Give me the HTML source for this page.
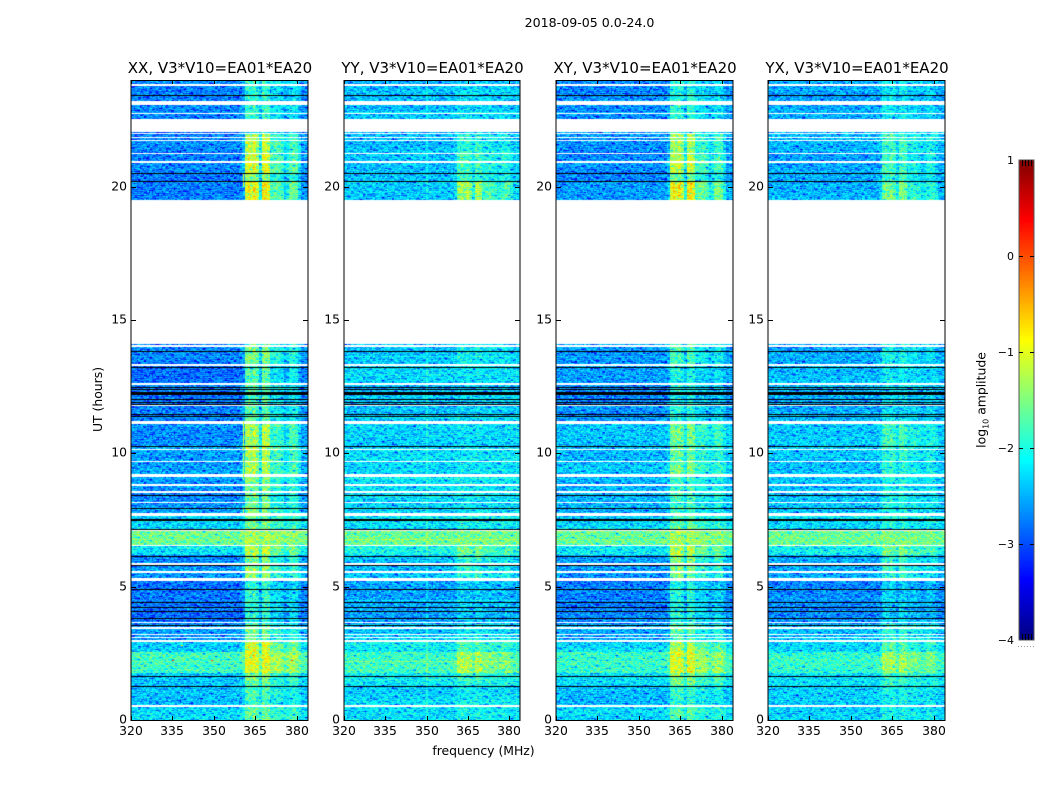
<!DOCTYPE html>
<html lang="en">
<head>
<meta charset="utf-8">
<title>2018-09-05 0.0-24.0</title>
<style>
html,body{margin:0;padding:0;background:#fff;}
#chart{position:relative;width:1050px;height:800px;overflow:hidden;background:#fff;}
canvas{position:absolute;display:block;}
svg{position:absolute;left:0;top:0;}
text{font-family:"DejaVu Sans","Liberation Sans",sans-serif;fill:#000;}
</style>
</head>
<body>
<div id="chart">
<svg id="axes" width="1050" height="800" viewBox="0 0 1050 800">
<text x="589.5" y="27" font-size="12.6" text-anchor="middle">2018-09-05 0.0-24.0</text>
<text x="483.5" y="755" font-size="12.4" text-anchor="middle">frequency (MHz)</text>
<text transform="translate(102,399.5) rotate(-90)" font-size="12.4" text-anchor="middle">UT (hours)</text>
<text transform="translate(985.5,400) rotate(-90)" font-size="12.4" text-anchor="middle">log<tspan font-size="8" dy="3">10</tspan><tspan dy="-3"> amplitude</tspan></text>
</svg>
</div>
<script>
// ---- Chart data ----
const panelTitles = ["XX, V3*V10=EA01*EA20", "YY, V3*V10=EA01*EA20", "XY, V3*V10=EA01*EA20", "YX, V3*V10=EA01*EA20"];
const freqTicks = [320, 335, 350, 365, 380];
const hourTicks = [0, 5, 10, 15, 20];
const colorTicks = [1, 0, -1, -2, -3, -4];
// Lower edge (hours) of each observing block, from the top of the plot downward.
const blockEnds = [22.0, 21.3, 20.5, 20.2, 19.5, 14.1, 13.3, 12.6, 11.2, 10.3, 9.2, 7.7, 7.15, 6.55, 6.2, 5.3, 3.6, 3.0, 2.55, 1.75, 1.3, 0.5, 0];
// Background log10 amplitude per block.
const baseXX = [-2.75, -2.72, -2.75, -2.8, -2.72, null, -2.75, -2.8, -2.78, -2.65, -2.6, -2.65, -2.3, -1.62, -2.2, -2.65, -2.82, -2.65, -2.35, -1.85, -2.35, -2.45, -2.3];
const baseYY = [-2.45, -2.42, -2.42, -2.45, -2.38, null, -2.42, -2.28, -2.4, -2.32, -2.28, -2.28, -2.25, -1.62, -2.05, -2.4, -2.58, -2.35, -2.15, -1.85, -2.15, -2.3, -2.25];
const baseXY = [-2.68, -2.64, -2.68, -2.72, -2.64, null, -2.64, -2.62, -2.68, -2.42, -2.42, -2.5, -2.3, -1.62, -2.2, -2.62, -2.75, -2.52, -2.28, -1.88, -2.28, -2.42, -2.32];
const baseYX = [-2.55, -2.5, -2.55, -2.55, -2.5, null, -2.55, -2.45, -2.5, -2.38, -2.38, -2.42, -2.25, -1.62, -2.1, -2.55, -2.68, -2.45, -2.25, -1.9, -2.25, -2.35, -2.3];
// Strength of the interference band per block.
const bandXX = [0.9, 1.6, 1.8, 1.4, 1.95, null, 1.3, 1.2, 1.1, 1.5, 1.4, 1.2, 0.8, 0.3, 1.1, 1.3, 0.95, 1.1, 1.4, 0.9, 0.9, 0.7, 0.7];
const bandYY = [0.2, 0.55, 0.65, 0.6, 1.1, null, 0.3, 0.1, 0.1, 0.1, 0.1, 0.1, 0.2, 0.1, 0.5, 0.55, 0.25, 0.25, 0.4, 0.6, 0.3, 0.2, 0.2];
const bandXY = [0.8, 1.4, 1.6, 1.2, 1.85, null, 0.9, 0.6, 0.7, 0.9, 0.9, 0.7, 0.7, 0.3, 1.0, 1.2, 0.8, 0.9, 1.1, 0.9, 0.8, 0.6, 0.6];
const bandYX = [0.4, 0.7, 0.8, 0.7, 1.0, null, 0.5, 0.3, 0.3, 0.6, 0.5, 0.4, 0.3, 0.1, 0.6, 0.7, 0.4, 0.5, 0.6, 0.6, 0.4, 0.3, 0.3];
// Relative band shape per 1 MHz channel group, 320 to 383 MHz.
const channelGain = [0,0,0,0,0,0,0,0,0,0, 0,0,0,0,0,0,0,0,0,0, 0,0,0,0,0,0,0,0,0,0, 0,0,0,0,0,0,0,0,0,0,
  0.15,0.9,1,0.85,1,0.8,0.35,1,1,0.9, 0.5,0.55,0.6,0.55,0.45,0.25,0.35,0.55,0.6,0.55, 0.3,0.05,0.05,0.05];
// Missing data (white), hours from-to.
const missingFrom = [23.79,23.06,22.74,22.06,21.96,21.84,21.71,21.22,20.88,14.10,13.99,13.29,12.58,11.79,11.10,10.12,9.67,9.11,8.77,8.51,8.12,7.65,7.09,6.51,5.83,5.53,5.21,3.64,3.43,3.19,3.07,2.94,0.49];
const missingTo = [23.85,23.22,22.78,22.55,22.00,21.88,21.75,21.28,20.96,19.50,14.06,13.35,12.62,11.83,11.21,10.18,9.73,9.22,8.85,8.57,8.16,7.77,7.13,6.58,5.89,5.57,5.32,3.67,3.47,3.24,3.13,3.00,0.56];
// Flagged integrations (black), hours.
const flaggedHours = [23.42,20.50,20.20,13.82,13.25,12.50,12.41,12.30,12.26,12.22,12.04,11.94,11.86,11.48,11.39,10.28,8.43,7.94,7.54,7.49,7.15,6.15,5.81,4.91,4.41,4.25,4.08,3.81,3.57,1.65,1.27];
// Isolated bright samples visible in the XX panel.
const spotHours = [1.27,1.27,1.27,1.27,1.27,1.27,1.27,1.27,2.25,2.25,2.25,2.8,20.5,20.5,20.5,20.2,20.2,20.2];
const spotFreqs = [328,335,342,349,356,363,370,378,335,349,378,338,328,335,350,325,330,334];
const spotLevels = [0,0,-0.3,0,-0.3,0,-0.3,0,0,0,0,-0.7,-0.5,-0.5,-0.5,0,0,-0.3];
// Vertical bright streaks in the XX panel.
const streakFrom = [9.0,7.75,10.1,20.0];
const streakTo = [10.0,8.0,11.2,20.5];
const streakFreq = [360.5,360.5,360.5,360.5];
const streakLevel = [-1.2,-1.2,-1.1,-1.0];
// Channel-to-channel speckle amplitude (approximates the visible grain).
const speckle = [0.12,-0.21,0.34,-0.05,0.18,-0.42,0.07,0.26,-0.14,0.03,-0.31,0.22,0.09,-0.66,0.15,-0.08,0.31,-0.19,0.02,0.24,-0.35,0.11,-0.02,0.19,-0.27,0.36,-0.11,0.06,-0.48,0.28,0.01,-0.16,0.21,-0.24,0.13,0.38,-0.09,-0.58,0.17,0.04,-0.29,0.25,-0.12,0.08,0.33,-0.38,0.16,-0.04,0.23,-0.18,0.05,-0.72,0.29,0.1,-0.22,0.2,-0.07,0.35,-0.33,0.14,-0.01];
const panelBases = [baseXX, baseYY, baseXY, baseYX];
const panelBands = [bandXX, bandYY, bandXY, bandYX];

// ---- Layout and scales ----
const panelLefts = [131, 344, 556, 768];
const panelWidth = [177, 176, 177, 177];
const plotTop = 80, plotBottom = 720;
const freqMin = 320, freqMax = 384, hourMin = 0, hourMax = 24, channelCount = 120, rowCount = 640;
const cbarLeft = 1019, cbarRight = 1034, cbarTop = 160, cbarBottom = 640, colorMin = -4, colorMax = 1;
const svgNS = "http://www.w3.org/2000/svg";
const chart = document.getElementById("chart");
const axes = document.getElementById("axes");
function hourY(h) { return plotBottom - (h - hourMin) / (hourMax - hourMin) * (plotBottom - plotTop); }
function freqX(p, f) { return panelLefts[p] + (f - freqMin) / (freqMax - freqMin) * panelWidth[p]; }
function colorY(v) { return cbarBottom - (v - colorMin) / (colorMax - colorMin) * (cbarBottom - cbarTop); }
function jet(v) {
  const t = Math.min(1, Math.max(0, (v - colorMin) / (colorMax - colorMin)));
  const part = function (c) { return Math.round(255 * Math.min(1, Math.max(0, 1.5 - Math.abs(4 * t - c)))); };
  return "rgb(" + part(3) + "," + part(2) + "," + part(1) + ")";
}
function addSvg(tag, attrs, text) {
  const el = document.createElementNS(svgNS, tag);
  for (const k in attrs) el.setAttribute(k, attrs[k]);
  if (text !== undefined) el.textContent = text;
  axes.appendChild(el);
  return el;
}
function isMissing(h) {
  for (let i = 0; i < missingFrom.length; i++) if (h >= missingFrom[i] && h < missingTo[i]) return true;
  return false;
}
function blockIndex(h) {
  for (let i = 0; i < blockEnds.length; i++) if (h >= blockEnds[i]) return i;
  return blockEnds.length - 1;
}

// ---- Heatmap panels ----
panelTitles.forEach(function (title, p) {
  const cv = document.createElement("canvas");
  
  
  cv.width = panelWidth[p];
  cv.height = plotBottom - plotTop;
  cv.style.left = panelLefts[p] + "px";
  cv.style.top = plotTop + "px";
  chart.insertBefore(cv, axes);
  const ctx = cv.getContext("2d");
  ctx.fillStyle = "#fff";
  ctx.fillRect(0, 0, cv.width, cv.height);
  const left = panelLefts[p];
  const hourStep = (hourMax - hourMin) / rowCount;
  const freqStep = (freqMax - freqMin) / channelCount;
  const n = speckle.length;
  for (let r = 0; r < rowCount; r++) {
    const h = hourMin + (r + 0.5) * hourStep;
    if (isMissing(h)) continue;
    const b = blockIndex(h);
    const base = panelBases[p][b];
    if (base === null) continue;
    const band = panelBands[p][b];
    const y0 = Math.round(hourY(h + hourStep / 2)) - plotTop;
    const y1 = Math.round(hourY(h - hourStep / 2)) - plotTop;
    const rowShift = 0.22 * speckle[(r * 19 + p * 7) % n];
    for (let c = 0; c < channelCount; c++) {
      const f = freqMin + c * freqStep;
      const g1 = speckle[(c * 23 + r * 41 + p * 11) % n];
      const g2 = speckle[(c * r + 3 * c + 5 * r + p * 17) % n];
      const v = base + band * channelGain[Math.floor(f - freqMin)] + rowShift + 0.7 * g1 + 0.8 * g2;
      const x0 = Math.round(freqX(p, f)) - left;
      const x1 = Math.round(freqX(p, f + freqStep)) - left;
      ctx.fillStyle = jet(v);
      ctx.fillRect(x0, y0, x1 - x0, y1 - y0);
    }
  }
  if (p === 0) {
    streakFrom.forEach(function (from, i) {
      ctx.fillStyle = jet(streakLevel[i]);
      const yA = Math.round(hourY(streakTo[i])) - plotTop;
      const yB = Math.round(hourY(from)) - plotTop;
      ctx.fillRect(Math.round(freqX(p, streakFreq[i])) - left, yA, 1, yB - yA);
    });
    spotHours.forEach(function (h, i) {
      ctx.fillStyle = jet(spotLevels[i]);
      ctx.fillRect(Math.round(freqX(p, spotFreqs[i])) - left, Math.round(hourY(h)) - plotTop, 2, 1);
    });
  }
  ctx.fillStyle = "#000";
  flaggedHours.forEach(function (h) {
    ctx.fillRect(0, Math.round(hourY(h)) - plotTop, cv.width, 1);
  });
});

// ---- Frames, ticks, labels ----
panelTitles.forEach(function (title, p) {
  const left = panelLefts[p], right = left + panelWidth[p];
  const key = title.slice(0, 2).toLowerCase();
  const frame = addSvg("rect", { x: left, y: plotTop + 0.5, width: panelWidth[p], height: plotBottom - plotTop, fill: "none", stroke: "#000", "stroke-width": 1 });
  
  
  const t = addSvg("text", { x: (left + right) / 2 + 0.5, y: 73, "font-size": 15, "text-anchor": "middle" }, title);
  
  
  freqTicks.forEach(function (f) {
    const x = Math.round(freqX(p, f)) + 0.5;
    const tick = addSvg("path", { d: "M" + x + " " + plotBottom + "V" + (plotBottom - 4) + "M" + x + " " + plotTop + "V" + (plotTop + 4), stroke: "#000", "stroke-width": 1, fill: "none" });
    
    
    const lab = addSvg("text", { x: x - 0.5, y: 735, "font-size": 12.4, "text-anchor": "middle" }, String(f));
    
    
  });
  hourTicks.forEach(function (h) {
    const y = Math.round(hourY(h)) + 0.5;
    if (h !== 0) {
      const tick = addSvg("path", { d: "M" + left + " " + y + "H" + (left + 5) + "M" + right + " " + y + "H" + (right - 5), stroke: "#000", "stroke-width": 1, fill: "none" });
      
      
    }
    const lab = addSvg("text", { x: left - 4, y: y + 3, "font-size": 12.4, "text-anchor": "end" }, String(h));
    
    
  });
});

// ---- Colorbar ----
const cbar = document.createElement("canvas");


cbar.width = cbarRight - cbarLeft;
cbar.height = cbarBottom - cbarTop;
cbar.style.left = cbarLeft + "px";
cbar.style.top = cbarTop + "px";
chart.insertBefore(cbar, axes);
const cbarCtx = cbar.getContext("2d");
for (let i = 0; i < cbar.height; i++) {
  const v = colorMax - (i + 0.5) / cbar.height * (colorMax - colorMin);
  cbarCtx.fillStyle = jet(v);
  cbarCtx.fillRect(0, i, cbar.width, 1);
}
const cbarFrame = addSvg("rect", { x: cbarLeft, y: cbarTop, width: cbarRight - cbarLeft, height: cbarBottom - cbarTop, fill: "none", stroke: "#555", "stroke-width": 1 });


colorTicks.forEach(function (v) {
  const y = Math.round(colorY(v)) + 0.5;
  if (v !== colorMax && v !== colorMin) {
    const tick = addSvg("path", { d: "M" + cbarLeft + " " + y + "h4M" + cbarRight + " " + y + "h-4", stroke: "#000", "stroke-width": 1, fill: "none" });
    
    
  }
  const lab = addSvg("text", { x: 1014, y: y + 3.5, "font-size": 11, "text-anchor": "end" }, String(v).replace("-", "\u2212"));
  
  
});
[1022, 1025, 1028, 1031].forEach(function (x) {
  const top = addSvg("path", { d: "M" + (x + 0.5) + " " + cbarTop + "v6M" + (x + 0.5) + " " + cbarBottom + "v-6", stroke: "#000", "stroke-width": 1, fill: "none" });
  
  
});
[1018, 1021, 1024, 1027, 1030, 1033].forEach(function (x) {
  const dot = addSvg("rect", { x: x, y: 646, width: 1, height: 1, fill: "#999" });
  
  
});
</script>
</body>
</html>
